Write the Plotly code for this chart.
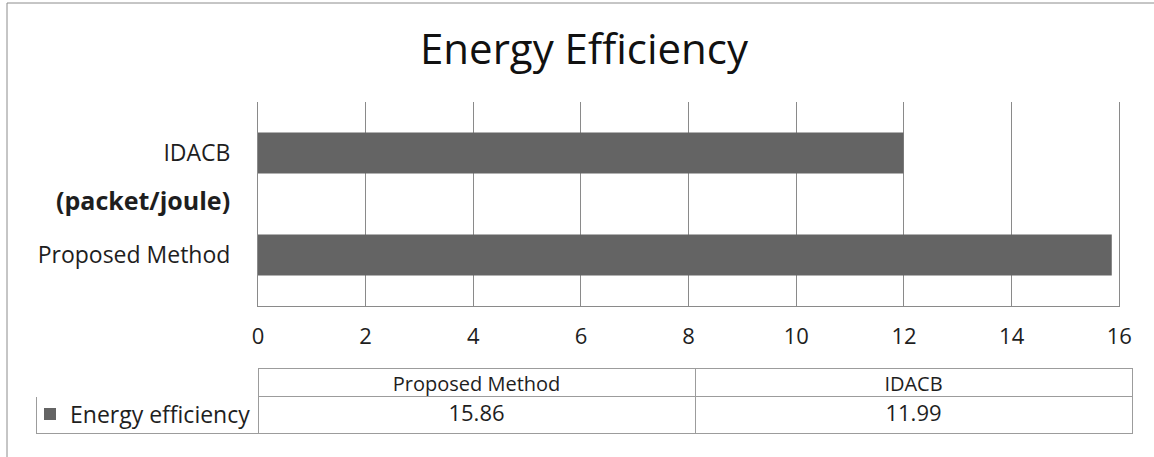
import plotly.graph_objects as go

# ---- data ----
categories = ["Proposed Method", "IDACB"]
values = [15.86, 11.99]
series_name = "Energy efficiency"
title_text = "Energy Efficiency"
unit_label = "(packet/joule)"
x_ticks = [0, 2, 4, 6, 8, 10, 12, 14, 16]

W, H = 1154, 457
FONT = "Open Sans"
BAR = "#646464"
GRID = "#8a8a8a"
TLINE = "#9c9c9c"
TXT = "#1e1e1e"

fig = go.Figure()

fig.add_trace(go.Bar(
    x=values, y=categories, orientation="h", name=series_name,
    marker=dict(color=BAR, line=dict(width=0)), showlegend=True,
))

fig.add_trace(go.Table(
    domain=dict(x=[36 / W, 1132 / W], y=[0, 1 - 368 / H]),
    columnwidth=[222, 437, 437],
    header=dict(
        values=[""] + categories,
        fill_color="white",
        line=dict(color=["white", TLINE, TLINE], width=1),
        font=dict(family=FONT, size=20, color=TXT),
        align="center", height=28,
    ),
    cells=dict(
        values=[[""]] + [[f"{v:.2f}"] for v in values],
        fill_color="white",
        line=dict(color=TLINE, width=1),
        font=dict(family=FONT, size=22, color=TXT),
        align="center", height=37,
    ),
))

fig.update_layout(
    width=W, height=H, autosize=False,
    margin=dict(l=0, r=0, t=0, b=0, autoexpand=False),
    paper_bgcolor="white", plot_bgcolor="white",
    bargap=0.6,
    font=dict(family=FONT, color=TXT),
    title=dict(text=title_text, x=584 / W, xanchor="center",
               y=1 - 49 / H, yanchor="middle", yref="container",
               font=dict(family=FONT, size=42, color="#111111")),
    xaxis=dict(domain=[258 / W, 1119.3 / W], range=[0, 16], automargin=False,
               tickvals=x_ticks, ticktext=[str(t) for t in x_ticks],
               showgrid=True, gridcolor=GRID, gridwidth=1,
               showline=True, linecolor=GRID, linewidth=1,
               zeroline=False, ticks="", ticklabelstandoff=11,
               tickfont=dict(family=FONT, size=22, color=TXT)),
    yaxis=dict(domain=[1 - 306 / H, 1 - 102 / H], automargin=False,
               categoryorder="array", categoryarray=categories,
               showgrid=False, showline=True, mirror=True,
               linecolor=GRID, linewidth=1,
               zeroline=False, ticks="", ticklabelstandoff=22,
               tickfont=dict(family=FONT, size=23, color=TXT)),
    legend=dict(x=30 / W, xanchor="left", y=1 - 414 / H, yanchor="middle",
                bgcolor="rgba(0,0,0,0)", borderwidth=0,
                font=dict(family=FONT, size=23, color=TXT)),
    showlegend=True,
)

fig.add_annotation(
    text=f"<b>{unit_label}</b>", xref="paper", yref="y",
    x=232 / W, y=0.5, xanchor="right", yanchor="middle", yshift=4,
    showarrow=False, font=dict(family=FONT, size=25, color=TXT),
)

# chart frame (top and left edges visible)
fig.add_shape(type="line", xref="paper", yref="paper",
              x0=7 / W, x1=1, y0=1 - 3 / H, y1=1 - 3 / H,
              line=dict(color="#8c8c8c", width=1))
fig.add_shape(type="line", xref="paper", yref="paper",
              x0=7 / W, x1=7 / W, y0=0, y1=1 - 3 / H,
              line=dict(color="#8c8c8c", width=1))

fig.write_html(
    "out.html",
    config={"responsive": False, "displayModeBar": False},
    post_script="document.body.style.margin='0';document.body.style.overflow='hidden';",
)
